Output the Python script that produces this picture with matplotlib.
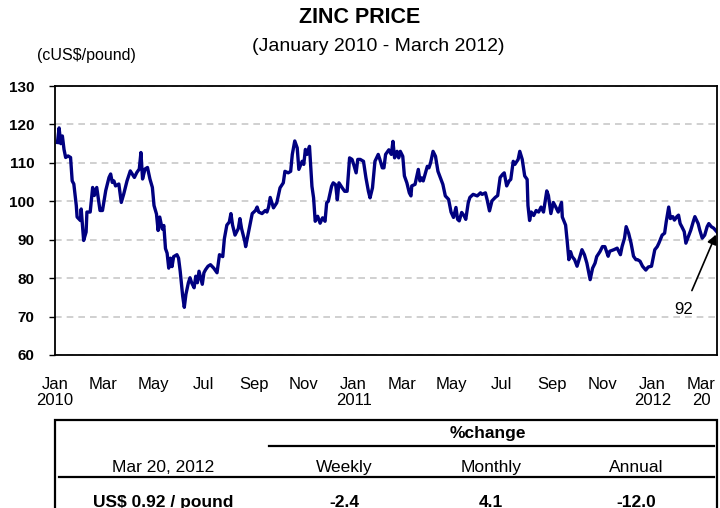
import pandas as pd
import matplotlib
matplotlib.use("Agg")
import matplotlib.pyplot as plt
from matplotlib.lines import Line2D
from matplotlib.patches import Rectangle

plt.rcParams["font.family"] = ["Liberation Sans", "DejaVu Sans"]

# Zinc price, cUS$/pound; days counted from 1 Jan 2010
day_offset = [
    3, 5, 7, 9, 11, 13, 16, 19, 21, 23, 26, 27, 31, 32, 35, 38, 39, 43, 46, 48,
    51, 55, 58, 62, 66, 68, 70, 72, 74, 78, 81, 84, 88, 92, 97, 100, 103, 105, 107, 110,
    113, 116, 119, 121, 124, 126, 128, 131, 133, 135, 137, 139, 141, 143, 145, 149, 151, 153, 156, 158,
    160, 163, 165, 167, 170, 172, 174, 176, 180, 182, 184, 187, 190, 194, 198, 201, 205, 207, 210, 213,
    215, 217, 220, 224, 226, 228, 232, 233, 237, 241, 245, 247, 249, 253, 257, 259, 261, 263, 267, 271,
    275, 279, 281, 285, 288, 290, 293, 296, 298, 302, 304, 306, 308, 311, 314, 316, 318, 321, 324, 327,
    330, 332, 334, 338, 340, 343, 345, 347, 351, 354, 357, 360, 363, 365, 368, 370, 373, 377, 380, 383,
    385, 388, 391, 395, 397, 400, 402, 404, 408, 411, 413, 415, 418, 420, 422, 425, 427, 430, 433, 435,
    436, 440, 444, 446, 448, 450, 455, 457, 459, 462, 465, 468, 471, 474, 477, 481, 484, 487, 490, 492,
    494, 497, 500, 502, 505, 507, 511, 516, 520, 522, 526, 528, 531, 534, 538, 541, 544, 547, 549, 552,
    555, 557, 560, 562, 566, 568, 571, 574, 577, 578, 580, 582, 585, 588, 591, 594, 597, 601, 603, 606,
    609, 612, 615, 619, 620, 624, 626, 628, 630, 632, 635, 638, 641, 644, 647, 650, 654, 657, 660, 662,
    666, 669, 672, 676, 678, 683, 687, 691, 693, 696, 698, 701, 704, 707, 710, 712, 715, 718, 722, 725,
    729, 733, 736, 738, 742, 745, 747, 750, 752, 755, 757, 760, 762, 764, 766, 769, 771, 774, 777, 780,
    782, 786, 788, 791, 794, 797, 799, 802, 805, 809,
]
price = [
    115.3, 119.1, 115.0, 117.0, 113.5, 111.4, 111.8, 111.4, 105.3, 104.5, 98.9, 95.9, 95.0, 98.0, 89.8, 92.0, 97.2, 97.2, 103.6, 101.5,
    103.6, 97.6, 97.6, 102.8, 106.2, 107.1, 104.9, 105.3, 104.0, 104.5, 99.7, 101.9, 105.3, 107.9, 106.2, 107.5, 108.4, 112.7, 105.8, 108.4,
    108.8, 105.8, 103.6, 98.9, 96.7, 92.4, 95.9, 92.8, 93.7, 87.7, 86.5, 82.6, 85.2, 83.0, 85.6, 86.1, 85.2, 81.8, 75.4, 72.4,
    75.8, 78.8, 80.1, 78.8, 77.5, 80.5, 78.8, 81.8, 78.4, 81.4, 82.2, 83.1, 83.5, 82.6, 81.4, 86.1, 85.6, 90.3, 93.8, 94.6,
    96.8, 93.8, 91.2, 92.9, 95.5, 92.9, 89.5, 88.2, 92.5, 96.8, 97.6, 98.5, 97.2, 96.8, 97.6, 97.2, 98.5, 101.0, 98.3, 99.6,
    103.5, 104.8, 107.8, 107.4, 107.8, 112.2, 115.7, 113.9, 108.3, 110.4, 109.6, 113.5, 112.2, 114.3, 103.9, 100.9, 94.8, 96.1, 94.3, 95.7,
    94.8, 99.6, 100.0, 103.9, 104.8, 104.3, 100.4, 104.8, 103.5, 102.6, 102.6, 111.3, 110.9, 109.6, 107.4, 110.9, 110.9, 110.4, 106.1, 102.6,
    100.9, 103.5, 110.4, 112.2, 110.9, 108.7, 108.7, 112.2, 113.4, 112.2, 115.6, 111.3, 113.0, 111.3, 113.0, 111.7, 106.6, 104.8, 102.2, 101.4,
    104.0, 104.4, 108.3, 105.3, 106.1, 105.3, 109.1, 108.7, 110.0, 113.0, 111.7, 107.8, 106.1, 104.4, 101.4, 100.5, 97.2, 95.8, 98.4, 95.3,
    94.9, 97.1, 96.2, 95.3, 99.6, 101.0, 101.8, 101.4, 102.2, 101.8, 102.2, 100.5, 97.5, 100.1, 101.0, 101.5, 106.2, 107.0, 107.4, 104.0,
    105.3, 105.7, 110.4, 109.6, 110.9, 113.0, 110.9, 106.6, 105.7, 98.9, 95.0, 97.2, 96.3, 97.6, 97.2, 98.5, 97.2, 102.7, 101.5, 96.8,
    99.7, 98.5, 97.2, 99.7, 95.9, 93.8, 89.5, 84.8, 86.9, 85.6, 84.8, 83.1, 85.2, 87.4, 86.1, 83.9, 79.6, 82.6, 83.9, 85.6,
    86.9, 88.2, 88.2, 85.7, 87.0, 87.4, 87.8, 86.1, 88.2, 90.4, 93.4, 91.7, 89.1, 85.7, 84.8, 84.8, 84.4, 83.1, 82.1, 82.9,
    83.1, 87.4, 88.2, 89.1, 91.2, 91.7, 94.7, 98.5, 95.5, 96.0, 95.1, 96.0, 96.4, 94.2, 93.4, 92.1, 89.1, 90.8, 92.5, 94.7,
    96.0, 94.2, 92.5, 90.4, 91.2, 93.4, 94.2, 93.4, 93.0, 92.0,
]

tick_dates = ["2010-01-01", "2010-03-01", "2010-05-01", "2010-07-01", "2010-09-01", "2010-11-01",
              "2011-01-01", "2011-03-01", "2011-05-01", "2011-07-01", "2011-09-01", "2011-11-01",
              "2012-01-01", "2012-03-01"]
tick_labels = ["Jan\n2010", "Mar", "May", "Jul", "Sep", "Nov",
               "Jan\n2011", "Mar", "May", "Jul", "Sep", "Nov",
               "Jan\n2012", "Mar\n20"]

# summary table
as_of = "Mar 20, 2012"
periods = ["Weekly", "Monthly", "Annual"]
pct_change = [-2.4, 4.1, -12.0]

dates = pd.Timestamp("2010-01-01") + pd.to_timedelta(day_offset, unit="D")

fig = plt.figure(figsize=(7.2, 5.08), dpi=100)
ax = fig.add_axes([0.0764, 0.3012, 0.9194, 0.5295])

ax.plot(dates, price, color="#000080", lw=2.4, solid_joinstyle="round")

ax.set_ylim(60, 130)
ax.set_yticks(range(60, 131, 10))
ax.set_xlim(pd.Timestamp("2010-01-02"), dates[-1])
ax.set_xticks(pd.to_datetime(tick_dates))
ax.set_xticklabels(tick_labels, fontsize=12)
for lbl in ax.get_xticklabels():
    lbl.set_linespacing(1.05)
ax.tick_params(axis="x", length=0, pad=16)
ax.tick_params(axis="y", length=4, width=1, pad=11, labelsize=11)
for lbl in ax.get_yticklabels():
    lbl.set_fontweight("bold")

ax.yaxis.grid(True, linestyle=(0, (4, 3)), color="#c8c8c8", lw=1.2)
ax.set_axisbelow(True)
for sp in ax.spines.values():
    sp.set_color("black")
    sp.set_linewidth(1.3)

ax.annotate(f"{price[-1]:.0f}", xy=(dates[-1], price[-1]), xytext=(-24, -56),
            textcoords="offset points", ha="center", va="center", fontsize=12,
            arrowprops=dict(arrowstyle="-|>", color="black", lw=1.2,
                            mutation_scale=14, shrinkA=7, shrinkB=2))

fig.text(0.5, 0.9646, "ZINC PRICE", ha="center", va="center", fontsize=15.5, fontweight="bold")
fig.text(0.525, 0.9075, "(January 2010 - March 2012)", ha="center", va="center", fontsize=14)
fig.text(0.1194, 0.8898, "(cUS$/pound)", ha="center", va="center", fontsize=11.5)

# table below the chart
fig.add_artist(Rectangle((0.0764, -0.1), 0.9194, 0.2732, transform=fig.transFigure,
                         fill=False, ec="black", lw=1.6))
fig.add_artist(Line2D([0.3736, 0.9917], [0.1213, 0.1213], transform=fig.transFigure,
                      color="black", lw=1.6))
fig.add_artist(Line2D([0.082, 0.9917], [0.061, 0.061], transform=fig.transFigure,
                      color="black", lw=1.6))

col_x = [0.4778, 0.6819, 0.8833]
fig.text(0.6778, 0.1476, "%change", ha="center", va="center", fontsize=12.5, fontweight="bold")
fig.text(0.2264, 0.0807, as_of, ha="center", va="center", fontsize=12.5)
fig.text(0.2264, 0.0118, f"US$ {price[-1] / 100:.2f} / pound", ha="center", va="center",
         fontsize=12.5, fontweight="bold")
for x, name, val in zip(col_x, periods, pct_change):
    fig.text(x, 0.0807, name, ha="center", va="center", fontsize=12.5)
    fig.text(x, 0.0118, f"{val:.1f}", ha="center", va="center", fontsize=12.5, fontweight="bold")

fig.savefig("out.png", dpi=100)
